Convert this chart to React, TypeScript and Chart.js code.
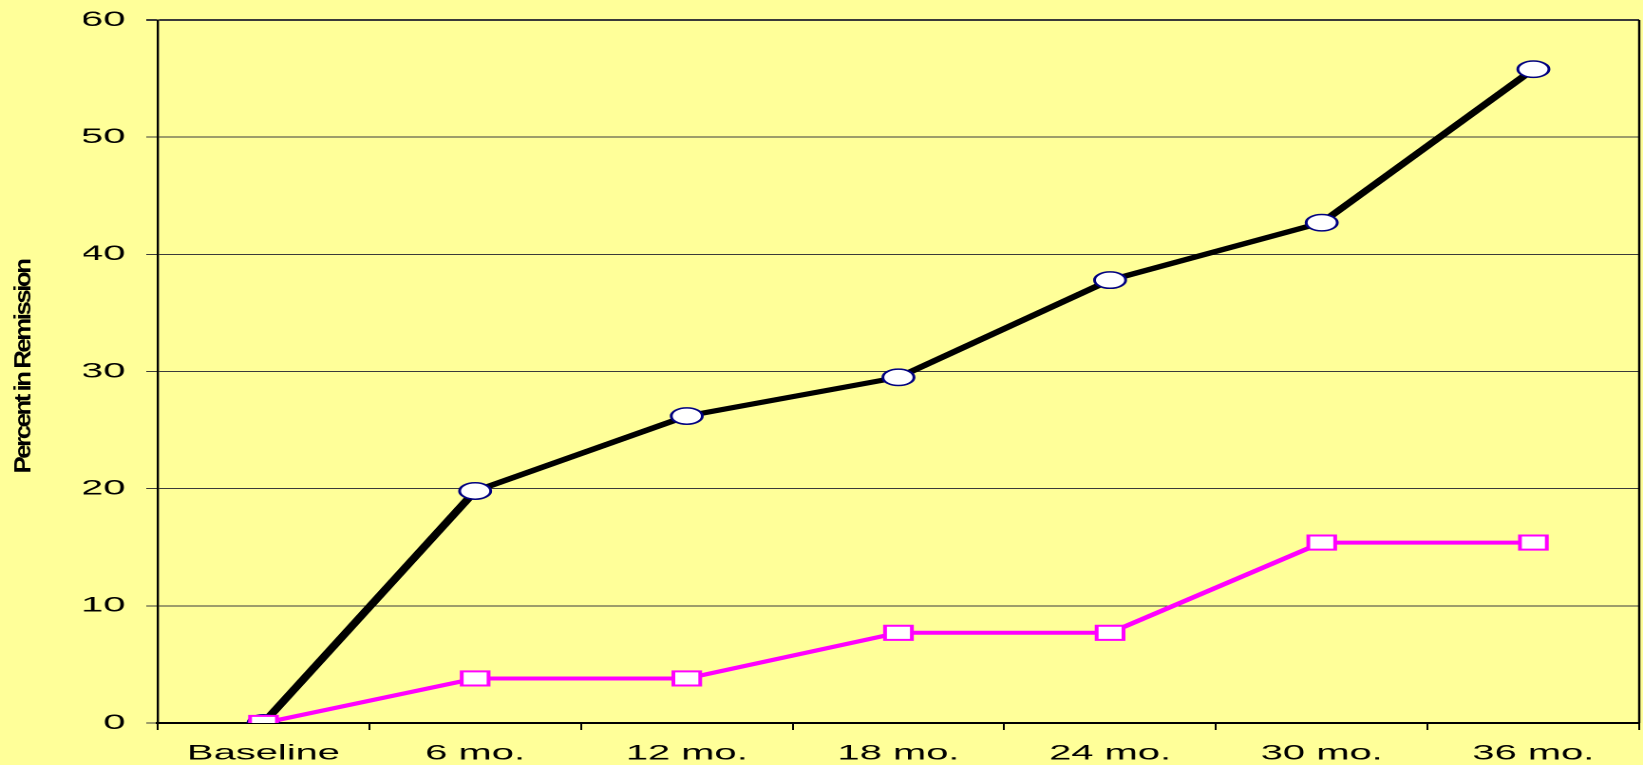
import React, { useEffect, useRef } from "react";
import { Chart, registerables } from "chart.js";

Chart.register(...registerables);

const categories = ["Baseline", "6 mo.", "12 mo.", "18 mo.", "24 mo.", "30 mo.", "36 mo."];
const seriesA = [0, 19.8, 26.2, 29.5, 37.8, 42.7, 55.8];
const seriesB = [0, 3.8, 3.8, 7.7, 7.7, 15.4, 15.4];
const yTicks = [0, 10, 20, 30, 40, 50, 60];
const yTitle = "Percent in Remission";

const FULL_W = 1643;
const FULL_H = 765;
const CANVAS_W = 865;
const STRETCH = FULL_W / CANVAS_W;
const FONT = "'Liberation Sans', Arial, sans-serif";

const framePlugin = {
  id: "frame",
  beforeDatasetsDraw(chart: any) {
    const { ctx, chartArea } = chart;
    ctx.save();
    ctx.strokeStyle = "#000";
    ctx.lineWidth = 1.2;
    ctx.beginPath();
    ctx.moveTo(chartArea.right, chartArea.top);
    ctx.lineTo(chartArea.right, chartArea.bottom);
    ctx.stroke();
    ctx.restore();
  },
  afterDraw(chart: any) {
    const { ctx } = chart;
    ctx.save();
    ctx.font = `bold 26px ${FONT}`;
    try {
      (ctx as any).letterSpacing = "-2.5px";
    } catch (e) {}
    ctx.fillStyle = "#000";
    ctx.textAlign = "center";
    ctx.textBaseline = "middle";
    const w = ctx.measureText(yTitle).width;
    ctx.translate(12.5, 367);
    ctx.rotate(-Math.PI / 2);
    ctx.scale(213 / w, 0.46);
    ctx.fillText(yTitle, 0, 0);
    ctx.restore();
  },
};

export default function App() {
  const ref = useRef<HTMLCanvasElement>(null);
  useEffect(() => {
    const canvas = ref.current!;
    const chart = new Chart(canvas, {
      type: "line",
      data: {
        labels: categories,
        datasets: [
          {
            label: "A",
            data: seriesA,
            borderColor: "#000000",
            borderWidth: 5,
            pointStyle: "circle",
            pointRadius: 8.2,
            pointBorderWidth: 1.5,
            pointBorderColor: "#000080",
            pointBackgroundColor: "#FFFFFF",
            tension: 0,
            order: 1,
          },
          {
            label: "B",
            data: seriesB,
            borderColor: "#FF00FF",
            borderWidth: 4,
            pointStyle: "rect",
            pointRadius: 10,
            pointBorderWidth: 2,
            pointBorderColor: "#FF00FF",
            pointBackgroundColor: "#FFFFFF",
            tension: 0,
            order: 0,
          },
        ],
      },
      options: {
        animation: false,
        responsive: false,
        devicePixelRatio: 2,
        layout: { autoPadding: false, padding: { left: 44, right: 2, top: 20, bottom: 0 } },
        plugins: { legend: { display: false }, tooltip: { enabled: false } },
        scales: {
          x: {
            type: "category",
            offset: true,
            afterFit: (s: any) => {
              s.height = 42;
              s.paddingLeft = 0;
              s.paddingRight = 0;
            },
            grid: {
              display: true,
              drawOnChartArea: false,
              drawTicks: true,
              tickLength: 7,
              color: "#000",
              offset: true,
            },
            border: { display: true, color: "#000", width: 2 },
            ticks: {
              font: { family: FONT, size: 21 },
              color: "#000",
              padding: 11,
              maxRotation: 0,
              autoSkip: false,
            },
          },
          y: {
            min: 0,
            max: 60,
            afterBuildTicks: (axis: any) => {
              axis.ticks = yTicks.map((v) => ({ value: v }));
            },
            afterFit: (s: any) => {
              s.width = 39;
              s.paddingTop = 0;
              s.paddingBottom = 0;
            },
            grid: {
              color: "#3a3a3a",
              lineWidth: (c: any) => (c.tick && c.tick.value === 60 ? 2 : 1),
              drawTicks: true,
              tickLength: 6,
              tickColor: "#3a3a3a",
            },
            border: { display: true, color: "#000", width: 1.2 },
            ticks: {
              font: { family: FONT, size: 21 },
              color: "#000",
              padding: 11,
            },
          },
        },
      },
      plugins: [framePlugin],
    });
    return () => chart.destroy();
  }, []);
  return (
    <div
      style={{
        position: "fixed",
        left: 0,
        top: 0,
        width: FULL_W,
        height: FULL_H,
        background: "#FFFF99",
        overflow: "hidden",
      }}
    >
      <canvas
        ref={ref}
        width={CANVAS_W}
        height={FULL_H}
        style={{ display: "block", transform: `scaleX(${STRETCH})`, transformOrigin: "0 0" }}
      />
    </div>
  );
}
